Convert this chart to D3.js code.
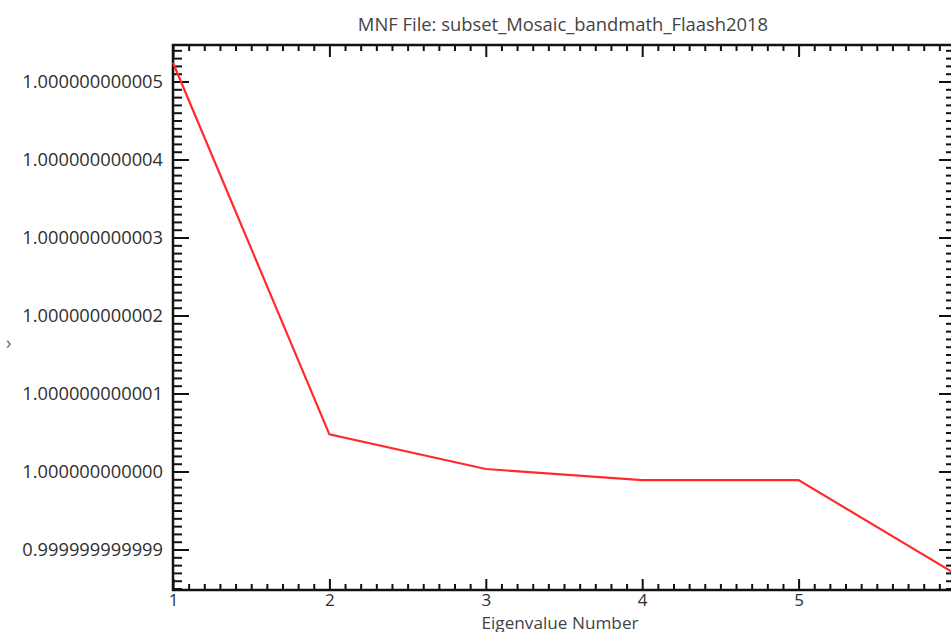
<!DOCTYPE html>
<html>
<head>
<meta charset="utf-8">
<script src="https://cdn.jsdelivr.net/npm/d3@7"></script>
<style>
  body { margin: 0; background: #fff; }
  svg { display: block; }
  .tick text { font-family: "Open Sans", sans-serif; fill: #2e2e2e; }
</style>
</head>
<body>
<svg id="chart" width="951" height="632"></svg>
<script>
// data
const eigenNumbers = [1, 2, 3, 4, 5, 6];
const eigenValues = [1.00000000000524, 1.000000000000477, 1.000000000000032,
                     0.99999999999989, 0.99999999999989, 0.99999999999869];
const yTickValues = [0.999999999999, 1.000000000000, 1.000000000001, 1.000000000002,
                     1.000000000003, 1.000000000004, 1.000000000005];
const xTickValues = [1, 2, 3, 4, 5, 6];
const yDomain = [0.999999999998481, 1.000000000005468];
const title = "MNF File: subset_Mosaic_bandmath_Flaash2018";

const svg = d3.select("#chart");
const mLeft = 173, mRight = 955, mTop = 45, mBottom = 590;

const x = d3.scaleLinear().domain([1, 6]).range([mLeft, mRight]);
const y = d3.scaleLinear().domain(yDomain).range([mBottom, mTop]);

// minor tick positions, 10 per major step
const xMinor = d3.range(1, 6.001, 0.1).filter(v => Math.abs(v - Math.round(v)) > 1e-6);
const yMinor = d3.range(-15, 55).filter(i => i % 10 !== 0).map(i => 1 + i * 1e-13);

const fmt = d3.format(".12f");

function axisG(axis, tr) {
    const g = svg.append("g").attr("transform", tr).call(axis);
    g.select(".domain").remove();
    g.selectAll(".tick line").attr("stroke", "#111").attr("stroke-width", 2);
    return g;
}

// left axis
axisG(d3.axisLeft(y).tickValues(yMinor).tickSize(-9).tickFormat(""), `translate(${mLeft},0)`);
axisG(d3.axisLeft(y).tickValues(yTickValues).tickSize(-16).tickPadding(10).tickFormat(fmt), `translate(${mLeft},0)`)
    .selectAll("text").attr("font-size", 18.3);
// right axis
axisG(d3.axisRight(y).tickValues(yMinor).tickSize(-9).tickFormat(""), `translate(${mRight},0)`);
axisG(d3.axisRight(y).tickValues(yTickValues).tickSize(-16).tickFormat(""), `translate(${mRight},0)`);
// bottom axis
axisG(d3.axisBottom(x).tickValues(xMinor).tickSize(-6).tickFormat(""), `translate(0,${mBottom})`);
axisG(d3.axisBottom(x).tickValues(xTickValues).tickSize(-11).tickPadding(4).tickFormat(d3.format("d")), `translate(0,${mBottom})`)
    .selectAll("text").attr("font-size", 17);
// top axis
axisG(d3.axisTop(x).tickValues(xMinor).tickSize(-6).tickFormat(""), `translate(0,${mTop})`);
axisG(d3.axisTop(x).tickValues(xTickValues).tickSize(-12).tickFormat(""), `translate(0,${mTop})`);

// frame
svg.append("rect")
    .attr("x", mLeft).attr("y", mTop)
    .attr("width", mRight - mLeft).attr("height", mBottom - mTop)
    .attr("fill", "none").attr("stroke", "#111").attr("stroke-width", 2.5);

// line
const line = d3.line().x((d, i) => x(eigenNumbers[i])).y(d => y(d));
svg.append("path")
    .datum(eigenValues)
    .attr("d", line)
    .attr("fill", "none")
    .attr("stroke", "#ff2a2a")
    .attr("stroke-width", 2.2);

// texts
svg.append("text")
    .attr("x", (mLeft + mRight) / 2 - 1).attr("y", 31)
    .attr("text-anchor", "middle")
    .attr("font-family", "Open Sans, sans-serif").attr("font-size", 18.4)
    .attr("fill", "#444")
    .text(title);

svg.append("text")
    .attr("x", (mLeft + mRight) / 2 - 4).attr("y", 629)
    .attr("text-anchor", "middle")
    .attr("font-family", "Open Sans, sans-serif").attr("font-size", 17.2)
    .attr("fill", "#444")
    .text("Eigenvalue Number");

svg.append("text")
    .attr("x", 6).attr("y", 349)
    .attr("font-family", "Open Sans, sans-serif").attr("font-size", 18)
    .attr("fill", "#666")
    .text("›");
</script>
</body>
</html>
